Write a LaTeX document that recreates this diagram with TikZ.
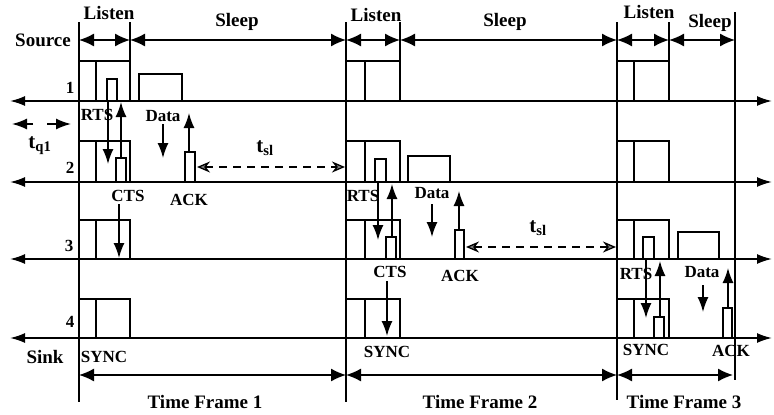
\documentclass[tikz,border=0pt]{standalone}
\usepackage{fontspec}
\setmainfont{Liberation Serif}
\usetikzlibrary{arrows.meta}
\begin{document}
\begin{tikzpicture}[x=1pt,y=-1pt,
  big/.style={font=\bfseries\fontsize{19}{21}\selectfont, inner sep=0pt},
  small/.style={font=\bfseries\fontsize{17}{19}\selectfont, inner sep=0pt},
  axisline/.style={line width=1.8pt, {Latex[length=15pt,width=10pt]}-{Latex[length=15pt,width=10pt]}},
  spanline/.style={line width=1.4pt, {Latex[length=15pt,width=13pt]}-{Latex[length=15pt,width=13pt]}},
  vline/.style={line width=1.2pt},
  pkt/.style={draw, line width=1.3pt},
  msg/.style={line width=1.5pt, -{Latex[length=15pt,width=11pt]}},
  tslline/.style={line width=1.3pt, dash pattern=on 8pt off 6pt,
     {Stealth[length=13pt,width=11pt,fill=gray]}-{Stealth[length=13pt,width=11pt,fill=gray]}}
]
\useasboundingbox (0,0) rectangle (774,415);

% time axes of the nodes
\foreach \y/\n in {101/a1,182/a2,259/a3,338/a4}{
  \coordinate (\n L) at (10,\y);
  \coordinate (\n R) at (772,\y);
  \draw[axisline] (\n L) -- (\n R);
}

% vertical frame lines
\draw[vline] (79,22) -- (79,402);
\draw[vline] (130,22) -- (130,101);
\draw[vline] (346,22) -- (346,402);
\draw[vline] (400,22) -- (400,101);
\draw[vline] (617,22) -- (617,400);
\draw[vline] (669,22) -- (669,101);
\draw[vline] (735,12) -- (735,380);

% top row: listen / sleep
\foreach \a/\b in {79/130,130/346,346/400,400/617,617/669,669/735}{
  \draw[spanline] (\a,40) -- (\b,40);
}
% bottom row: time frames
\foreach \a/\b in {79/346,346/617,617/733}{
  \draw[spanline] (\a,375) -- (\b,375);
}

% listen (SYNC) boxes
\foreach \x/\d/\e in {79/96/130,346/365/400,617/634/669}{
  \foreach \t/\y in {61/101,141/182,220/259,299/338}{
    \draw[pkt] (\x,\y) -- (\x,\t) -- (\e,\t) -- (\e,\y);
    \draw[pkt] (\d,\t) -- (\d,\y);
  }
}

% small packets and data boxes
\draw[pkt] (107,101) rectangle (117,79);
\draw[pkt] (116,182) rectangle (126,158);
\draw[pkt] (139,101) rectangle (182,74);
\draw[pkt] (185,182) rectangle (195,152);

\draw[pkt] (375,182) rectangle (386,159);
\draw[pkt] (408,182) rectangle (450,156);
\draw[pkt] (386,259) rectangle (396,237);
\draw[pkt] (455,259) rectangle (464,230);

\draw[pkt] (643,259) rectangle (654,237);
\draw[pkt] (678,259) rectangle (719,232);
\draw[pkt] (654,338) rectangle (664,317);
\draw[pkt] (723,338) rectangle (732,308);

% messages frame 1
\draw[msg] (108,101) -- (108,164);
\draw[msg] (121,158) -- (121,102);
\draw[msg] (163,124) -- (163,158);
\draw[msg] (189,152) -- (189,113);
\draw[msg] (119,204) -- (119,258);
% messages frame 2
\draw[msg] (378,182) -- (378,240);
\draw[msg] (392,237) -- (392,184);
\draw[msg] (432,204) -- (432,237);
\draw[msg] (459,230) -- (459,191);
\draw[msg] (387,281) -- (387,336);
% messages frame 3
\draw[msg] (646,259) -- (646,318);
\draw[msg] (660,317) -- (660,261);
\draw[msg] (703,285) -- (703,312);
\draw[msg] (728,308) -- (728,268);

% t_q1 and t_sl
\draw[msg] (33,124) -- (12,124);
\draw[msg] (47,124) -- (71,124);
\draw[tslline] (197,167) -- (345,167);
\draw[tslline] (466,247) -- (616,247);

% labels
\node[big] (lis1) at (109,13) {Listen};
\node[big] (lis2) at (376,15) {Listen};
\node[big] (lis3) at (649,12) {Listen};
\node[big] (slp1) at (237,22) {Sleep};
\node[big] (slp2) at (505,22) {Sleep};
\node[big] (slp3) at (710,23) {Sleep};
\node[big] (src) at (43,40) {Source};
\node[big] (snk) at (45,357) {Sink};
\node[small] (n1) at (70,88) {1};
\node[small] (n2) at (70,168) {2};
\node[small] (n3) at (69,246) {3};
\node[small] (n4) at (70,322) {4};

\node[small] (rts1) at (97,115) {RTS};
\node[small] (data1) at (163,116) {Data};
\node[small] (cts1) at (128,196) {CTS};
\node[small] (ack1) at (189,200) {ACK};
\node[small] (sync1) at (104,357) {SYNC};

\node[small] (rts2) at (363,196) {RTS};
\node[small] (data2) at (432,193) {Data};
\node[small] (cts2) at (390,272) {CTS};
\node[small] (ack2) at (460,276) {ACK};
\node[small] (sync2) at (387,352) {SYNC};

\node[small] (rts3) at (636,274) {RTS};
\node[small] (data3) at (702,272) {Data};
\node[small] (sync3) at (646,350) {SYNC};
\node[small] (ack3) at (731,351) {ACK};

\node[big, font=\bfseries\fontsize{21}{23}\selectfont] (tq1) at (40,146) {t\textsubscript{q1}};
\node[big, font=\bfseries\fontsize{21}{23}\selectfont] (tsl1) at (265,148) {t\textsubscript{sl}};
\node[big, font=\bfseries\fontsize{21}{23}\selectfont] (tsl2) at (538,228) {t\textsubscript{sl}};

\node[big] (tf1) at (205,402) {Time Frame 1};
\node[big] (tf2) at (480,402) {Time Frame 2};
\node[big] (tf3) at (684,402) {Time Frame 3};
\end{tikzpicture}
\end{document}
